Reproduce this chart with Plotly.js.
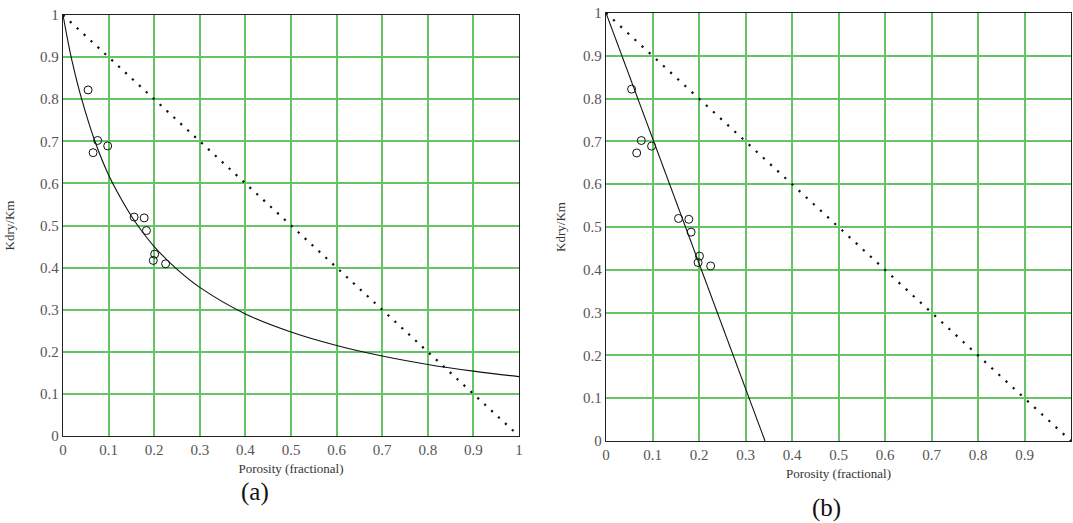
<!DOCTYPE html>
<html>
<head>
<meta charset="utf-8">
<script src="https://cdn.plot.ly/plotly-3.0.1.min.js"></script>
<style>html,body{margin:0;padding:0;background:#fff;}#chart{width:1073px;height:523px;}</style>
</head>
<body>
<div id="chart"></div>
<script>
// Measured data (both panels share the same samples)
const porosity = [0.055, 0.076, 0.066, 0.098, 0.156, 0.178, 0.183, 0.201, 0.198, 0.225];
const kratio   = [0.822, 0.702, 0.673, 0.689, 0.520, 0.518, 0.488, 0.432, 0.417, 0.409];

// Panel (a) fitted curve
const curveX = [0, 0.01, 0.02, 0.041, 0.07, 0.1, 0.14, 0.164, 0.2, 0.246, 0.3, 0.4, 0.5, 0.6, 0.7, 0.8, 0.9, 1.0];
const curveY = [1, 0.942, 0.89, 0.8, 0.7, 0.62, 0.54, 0.5, 0.45, 0.4, 0.353, 0.29, 0.247, 0.215, 0.19, 0.17, 0.154, 0.141];

// Panel (b) straight fitted line
const lineX = [0, 0.342];
const lineY = [1, 0];

// Voigt bound (dotted diagonal)
const boundX = [0, 1];
const boundY = [1, 0];

const tickVals = [0, 0.1, 0.2, 0.3, 0.4, 0.5, 0.6, 0.7, 0.8, 0.9, 1];
const tickText = ["0", "0.1", "0.2", "0.3", "0.4", "0.5", "0.6", "0.7", "0.8", "0.9", "1"];

const W = 1073, H = 523;
const serif = "Liberation Serif, Times New Roman, serif";
const grid = "#66c466";

function axis(domain, anchor, title, standoff) {
  return {
    domain: domain, anchor: anchor, range: [0, 1], fixedrange: true,
    tickvals: tickVals, ticktext: tickText, ticks: "",
    showgrid: true, gridcolor: grid, gridwidth: 2, zeroline: false,
    showline: true, linecolor: "#222", linewidth: 1.3, mirror: true,
    tickfont: {family: serif, size: 15, color: "#555"},
    title: {text: title, font: {family: serif, size: 13, color: "#333"}, standoff: standoff},
    automargin: false
  };
}

const sym = {mode: "markers", marker: {symbol: "circle-open", size: 8, color: "#111", line: {width: 1, color: "#111"}}, hoverinfo: "skip"};

const traces = [
  {x: boundX, y: boundY, xaxis: "x", yaxis: "y", mode: "lines", line: {color: "#111", width: 2.2, dash: "2.2px,7.2px"}},
  {x: curveX, y: curveY, xaxis: "x", yaxis: "y", mode: "lines", line: {color: "#111", width: 1.1, shape: "spline", smoothing: 1}},
  Object.assign({x: porosity, y: kratio, xaxis: "x", yaxis: "y"}, sym),
  {x: boundX, y: boundY, xaxis: "x2", yaxis: "y2", mode: "lines", line: {color: "#111", width: 2.2, dash: "2.2px,7.5px"}},
  {x: lineX, y: lineY, xaxis: "x2", yaxis: "y2", mode: "lines", line: {color: "#111", width: 1.1}},
  Object.assign({x: porosity, y: kratio, xaxis: "x2", yaxis: "y2"}, sym)
];

const layout = {
  width: W, height: H, showlegend: false,
  margin: {l: 0, r: 0, t: 0, b: 0},
  paper_bgcolor: "#fff", plot_bgcolor: "#fff",
  xaxis: axis([63 / W, 519 / W], "y", "Porosity (fractional)", 6),
  yaxis: axis([1 - 436 / H, 1 - 15 / H], "x", "Kdry/Km", 22),
  xaxis2: axis([606 / W, 1071 / W], "y2", "Porosity (fractional)", 6),
  yaxis2: axis([1 - 441 / H, 1 - 13 / H], "x2", "Kdry/Km", 14),
  annotations: [
    {text: "(a)", xref: "paper", yref: "paper", x: 255 / W, y: 1 - 492 / H, showarrow: false,
     font: {family: serif, size: 25, color: "#111"}, xanchor: "center", yanchor: "middle"},
    {text: "(b)", xref: "paper", yref: "paper", x: 826 / W, y: 1 - 508 / H, showarrow: false,
     font: {family: serif, size: 25, color: "#111"}, xanchor: "center", yanchor: "middle"}
  ]
};

Plotly.newPlot("chart", traces, layout, {displayModeBar: false, staticPlot: true});
</script>
</body>
</html>
